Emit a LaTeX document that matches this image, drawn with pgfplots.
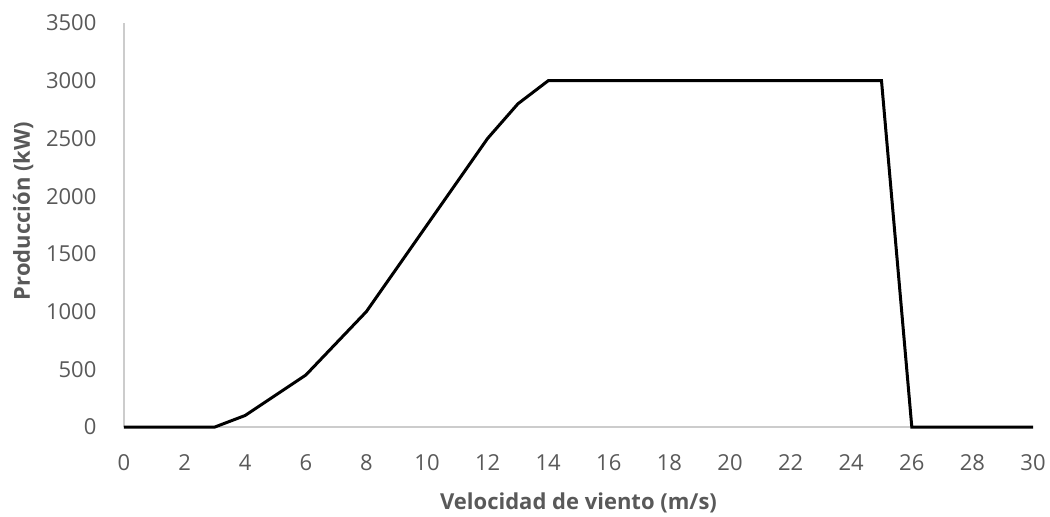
\documentclass[border=0pt]{standalone}
\usepackage{pgfplots}
\pgfplotsset{compat=1.18}
\usepackage{fontspec}
\setmainfont{Open Sans}
\definecolor{txtgray}{HTML}{595959}
\definecolor{axgray}{HTML}{CCCCCC}
\begin{document}
\begin{tikzpicture}
\begin{axis}[
    at={(0,0)}, anchor=south west,
    scale only axis,
    width=454.5pt, height=202pt,
    xmin=0, xmax=30, ymin=0, ymax=3500,
    xtick distance=2, ytick distance=500,
    axis x line*=bottom, axis y line*=left,
    axis line style={draw=axgray, line width=0.6pt, -},
    major tick length=0pt,
    tick label style={font=\fontsize{11}{13}\selectfont, text=txtgray},
    /pgf/number format/assume math mode=true,
    /pgf/number format/1000 sep={},
    xticklabel style={yshift=-10.3pt},
    yticklabel style={xshift=-10.3pt},
    xlabel={Velocidad de viento (m/s)},
    ylabel={Producción (kW)},
    label style={font=\fontsize{11}{13}\selectfont\bfseries, text=txtgray},
    xlabel style={at={(axis description cs:0.5,-0.205)}, anchor=base},
    ylabel style={at={(axis description cs:-0.111,0.535)}, anchor=center, rotate=0},
    clip=false,
]
\addplot[black, line width=1.5pt, line join=miter] coordinates {
    (0,0) (1,0) (2,0) (3,0) (4,100) (5,275) (6,450) (7,725) (8,1000)
    (9,1375) (10,1750) (11,2125) (12,2500) (13,2800) (14,3000)
    (15,3000) (16,3000) (17,3000) (18,3000) (19,3000) (20,3000)
    (21,3000) (22,3000) (23,3000) (24,3000) (25,3000) (26,0)
    (27,0) (28,0) (29,0) (30,0)
};
\end{axis}
\pgfresetboundingbox
\path[use as bounding box] (-62pt,-44.5pt) rectangle (463pt,213.5pt);
\end{tikzpicture}
\end{document}
